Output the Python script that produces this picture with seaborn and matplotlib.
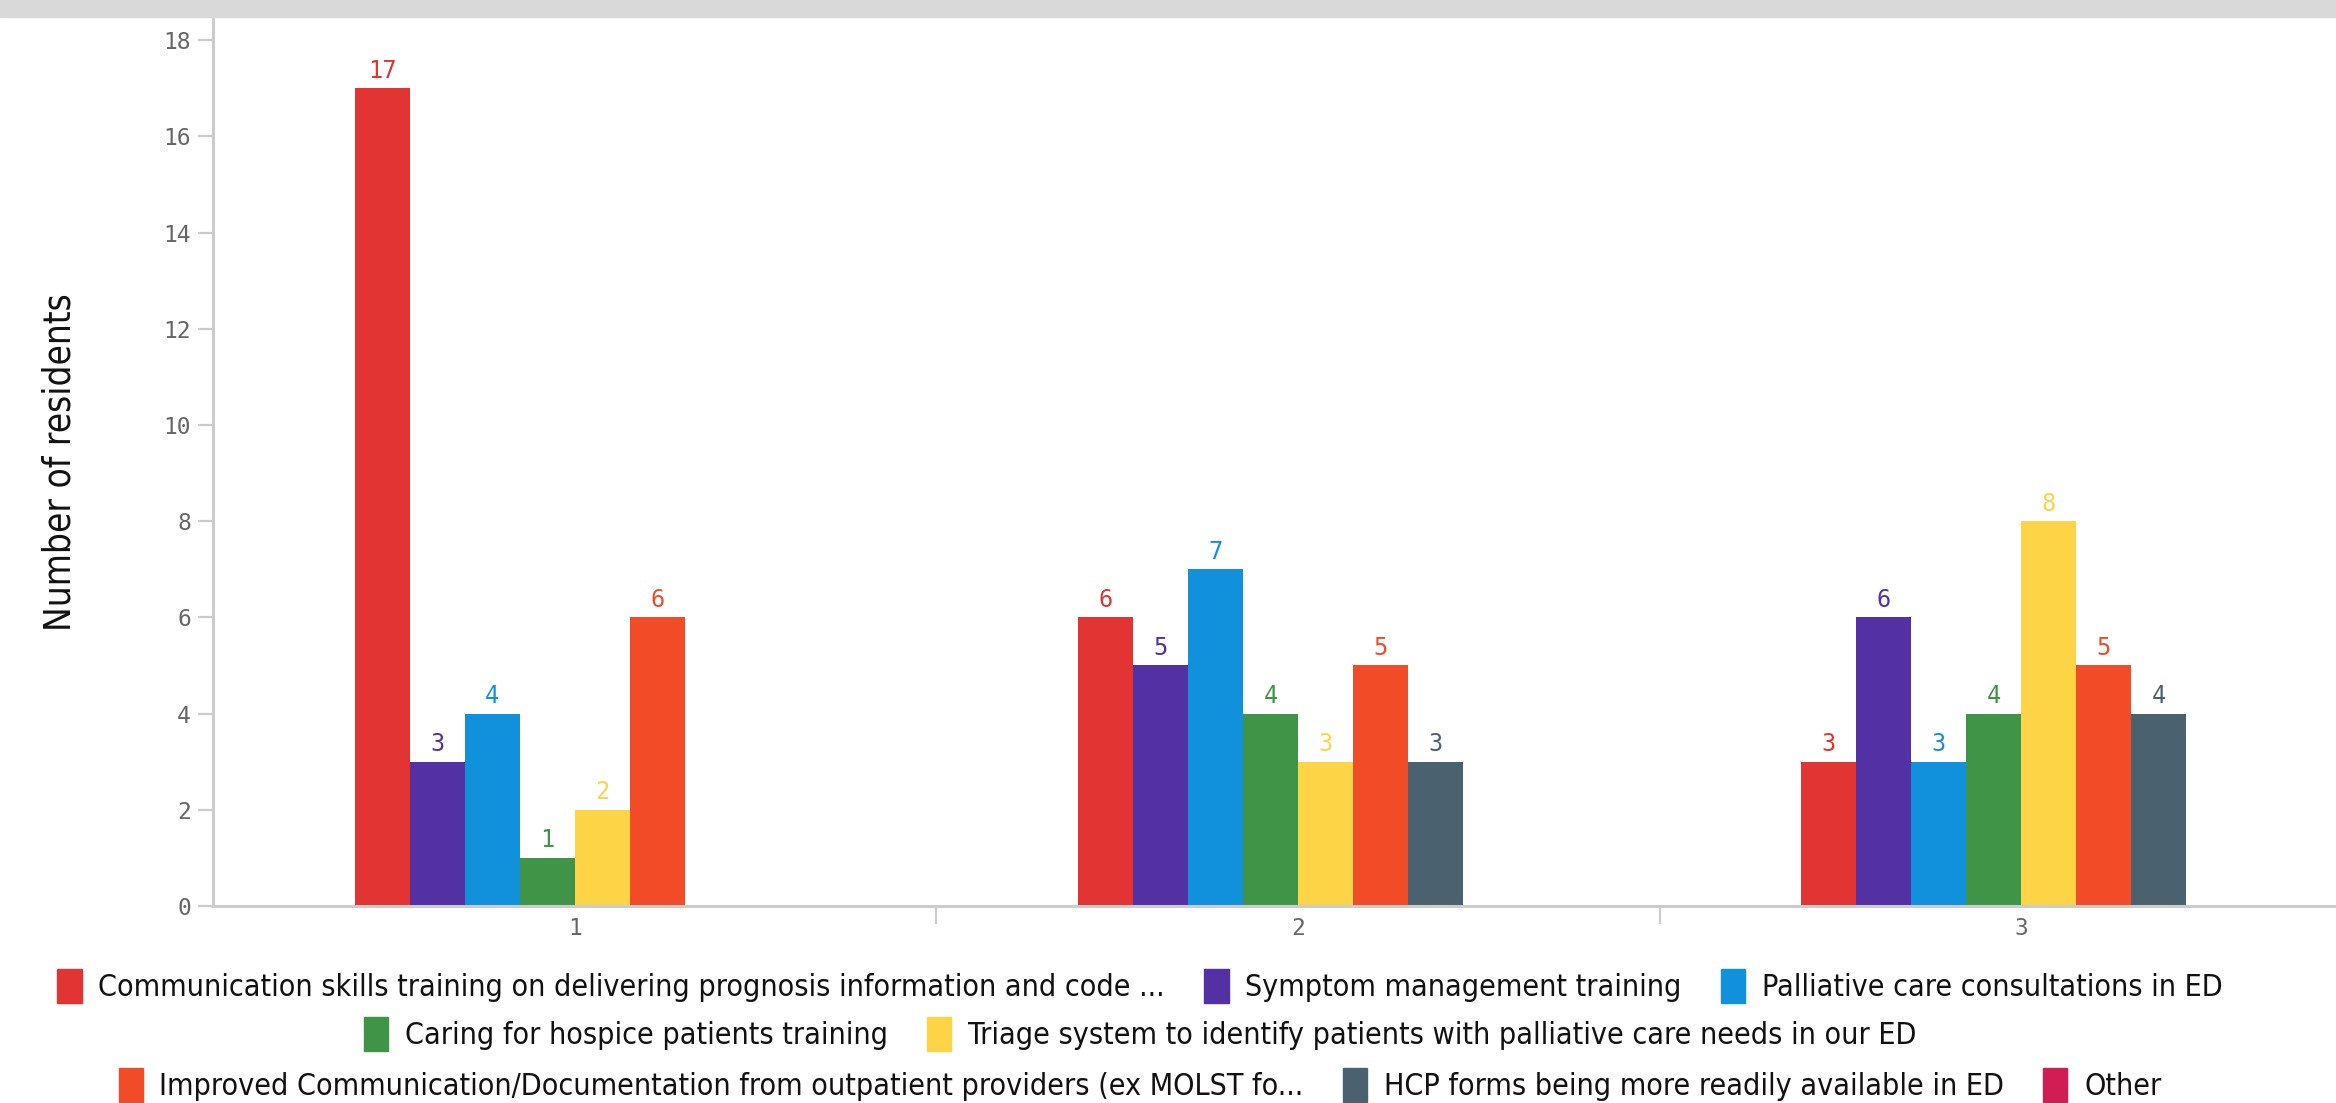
import seaborn as sns
import matplotlib.pyplot as plt
import matplotlib.patches as mpatches
from matplotlib.font_manager import FontProperties
import pandas as pd

groups = ["1", "2", "3"]
options = [
    "Communication skills training on delivering prognosis information and code ...",
    "Symptom management training",
    "Palliative care consultations in ED",
    "Caring for hospice patients training",
    "Triage system to identify patients with palliative care needs in our ED",
    "Improved Communication/Documentation from outpatient providers (ex MOLST fo...",
    "HCP forms being more readily available in ED",
    "Other",
]
# number of residents per option, for groups 1, 2, 3
communication = [17, 6, 3]
symptom = [3, 5, 6]
palliative = [4, 7, 3]
hospice = [1, 4, 4]
triage = [2, 3, 8]
improved = [6, 5, 5]
hcp = [0, 3, 4]
other = [0, 0, 0]
colors = ["#E13433", "#5330A4", "#1190DB", "#3F9447",
          "#FCD446", "#F24B27", "#4A626F", "#D01E55"]

series = [communication, symptom, palliative, hospice, triage, improved, hcp, other]
rows = []
for opt, vals in zip(options, series):
    for g, v in zip(groups, vals):
        rows.append({"group": g, "option": opt, "residents": v})
df = pd.DataFrame(rows)
palette = dict(zip(options, colors))

sns.set_style("white")
plt.rcParams["font.family"] = ["DejaVu Sans"]
narrow = FontProperties(family="DejaVu Sans", stretch="condensed", size=21.8)

fig = plt.figure(figsize=(23.36, 11.03), dpi=100)
ax = fig.add_axes([213 / 2336, 197 / 1103, 2170 / 2336, 888 / 1103])

sns.barplot(data=df, x="group", y="residents", hue="option",
            hue_order=options, order=groups, palette=palette,
            width=0.608, errorbar=None, linewidth=0, saturation=1, ax=ax)

for cont, col in zip(ax.containers, colors):
    labels = [f"{int(b.get_height())}" if b.get_height() > 0 else "" for b in cont]
    ax.bar_label(cont, labels=labels, padding=4, color=col,
                 fontsize=17, family="DejaVu Sans Mono")

if ax.get_legend() is not None:
    ax.get_legend().remove()

ax.set_xlim(-0.5, 2.5)
ax.set_ylim(0, 18.46)
ax.set_yticks(range(0, 19, 2))
ax.set_xlabel("")
ax.set_ylabel("Number of residents", color="#111111",
              fontproperties=FontProperties(family="DejaVu Sans",
                                            stretch="condensed", size=26.5))
ax.yaxis.set_label_coords(-0.062, 0.5)

for s in ["top", "right"]:
    ax.spines[s].set_visible(False)
for s in ["left", "bottom"]:
    ax.spines[s].set_color("#cccccc")
    ax.spines[s].set_linewidth(2.2)

ax.tick_params(axis="y", length=11, width=1.6, color="#cccccc",
               labelsize=16.5, labelcolor="#666666", pad=5, left=True)
ax.tick_params(axis="x", which="major", length=0, labelsize=16.5,
               labelcolor="#666666", pad=8)
ax.set_xticks([0.5, 1.5, 2.5], minor=True)
ax.tick_params(axis="x", which="minor", length=13, width=1.6,
               color="#cccccc", bottom=True)
for t in ax.get_xticklabels() + ax.get_yticklabels():
    t.set_family("DejaVu Sans Mono")

# legend in three centred rows
rows_idx = [[0, 1, 2], [3, 4], [5, 6, 7]]
row_y = [1 - 986 / 1103, 1 - 1034 / 1103, 1 - 1085 / 1103]
for idx, yy in zip(rows_idx, row_y):
    hs = [mpatches.Patch(color=colors[i]) for i in idx]
    ls = [options[i] for i in idx]
    fig.legend(hs, ls, loc="center", bbox_to_anchor=(0.488, yy),
               ncol=len(idx), frameon=False, prop=narrow,
               handlelength=0.8, handleheight=1.3, handletextpad=0.55,
               columnspacing=1.3, borderpad=0, labelcolor="#111111")

# grey title band at the top
fig.patches.append(mpatches.Rectangle((0, 1 - 17 / 1103), 1, 17 / 1103,
                                      transform=fig.transFigure,
                                      color="#d9d9d9", zorder=0))

fig.savefig("out.png", dpi=100)
